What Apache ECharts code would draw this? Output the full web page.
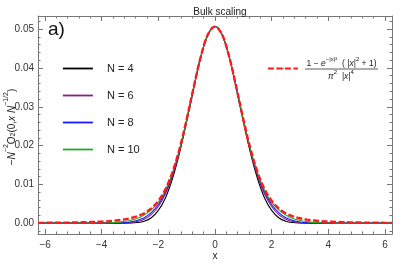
<!DOCTYPE html>
<html><head><meta charset="utf-8">
<script src="https://cdn.jsdelivr.net/npm/echarts@6/dist/echarts.min.js"></script>
<style>html,body{margin:0;padding:0;background:#fff}#c{width:407px;height:264px}</style>
</head><body><div id="c"></div>
<script>
var xs = [-6.25,-6,-5.75,-5.5,-5.25,-5,-4.75,-4.5,-4.25,-4,-3.75,-3.5,-3.25,-3,-2.75,-2.5,-2.25,-2,-1.75,-1.5,-1.25,-1,-0.75,-0.5,-0.25,
  0,0.25,0.5,0.75,1,1.25,1.5,1.75,2,2.25,2.5,2.75,3,3.25,3.5,3.75,4,4.25,4.5,4.75,5,5.25,5.5,5.75,6,6.25];
var n4 = [0,0,0,0,0,0,0,0,0,0,0,0,0,0.00003,0.00015,0.0005,0.0014,0.0033,0.0065,0.0115,0.0182,0.0262,0.0348,0.0428,0.0486,
  0.0507,
  0.0486,0.0428,0.0348,0.0262,0.0182,0.0115,0.0065,0.0033,0.0014,0.0005,0.00015,0.00003,0,0,0,0,0,0,0,0,0,0,0,0,0];
var n6 = [0,0,0,0,0,0,0,0,0,0,0,0,0.00003,0.00012,0.0004,0.0010,0.0022,0.0043,0.0075,0.0122,0.0187,0.0265,0.0350,0.0429,0.0486,
  0.0507,
  0.0486,0.0429,0.0350,0.0265,0.0187,0.0122,0.0075,0.0043,0.0022,0.0010,0.0004,0.00012,0.00003,0,0,0,0,0,0,0,0,0,0,0,0];
var n8 = [0,0,0,0,0,0,0,0,0,0,0,0.00003,0.0001,0.0003,0.0007,0.0014,0.0027,0.0048,0.0080,0.0126,0.0189,0.0266,0.0351,0.0429,0.0486,
  0.0507,
  0.0486,0.0429,0.0351,0.0266,0.0189,0.0126,0.0080,0.0048,0.0027,0.0014,0.0007,0.0003,0.0001,0.00003,0,0,0,0,0,0,0,0,0,0,0];
var n10 = [0,0,0,0,0,0,0,0,0.00001,0.00004,0.0001,0.0002,0.0004,0.0007,0.0012,0.0021,0.0034,0.0054,0.0085,0.0130,0.0191,0.0267,0.0351,0.0430,0.0486,
  0.0507,
  0.0486,0.0430,0.0351,0.0267,0.0191,0.0130,0.0085,0.0054,0.0034,0.0021,0.0012,0.0007,0.0004,0.0002,0.0001,0.00004,0.00001,0,0,0,0,0,0,0,0];
var bulk = [0.0000664,0.0000782,0.0000927,0.000111,0.000133,0.000162,0.000199,0.000247,0.000311,0.00040,0.00051,0.00068,0.00091,0.00125,0.00176,0.00256,0.00380,0.00575,0.00875,0.01316,0.01921,0.02677,0.03513,0.04296,0.04861,
  0.05066,
  0.04861,0.04296,0.03513,0.02677,0.01921,0.01316,0.00875,0.00575,0.00380,0.00256,0.00176,0.00125,0.00091,0.00068,0.00051,0.00040,0.000311,0.000247,0.000199,0.000162,0.000133,0.000111,0.0000927,0.0000782,0.0000664];
var xTicks = [-6,-4,-2,0,2,4,6];
var yTicks = [0,0.01,0.02,0.03,0.04,0.05];
var xMinor = [];
for (var i = -15; i <= 15; i++) xMinor.push(+(i*0.4).toFixed(2));
var yMinor = [];
for (var j = -1; j <= 26; j++) yMinor.push(+(j*0.002).toFixed(3));
var names = ['N = 4','N = 6','N = 8','N = 10'];
var colors = ['#000000','#8b1a8b','#1a1aff','#22aa22'];

function pairs(ys){ return xs.map(function(x,i){ return [x, ys[i]]; }); }

var XMIN=-6.25, XMAX=6.25, YMIN=-0.0028, YMAX=0.0534;
var FONT = 'Liberation Sans';
var frameColor = '#777';
function xAxis(pos, vals, len, labels, line){
  return {type:'value', min:XMIN, max:XMAX, position:pos,
    axisLine:{show:line, onZero:false, lineStyle:{color:frameColor, width:1}},
    splitLine:{show:false},
    axisTick:{show:true, inside:true, length:len, customValues:vals, lineStyle:{color:frameColor}},
    axisLabel:{show:labels, customValues:vals, color:'#333', fontSize:10, fontFamily:FONT, margin:6,
      formatter:function(v){ return v<0 ? '\u2212'+Math.abs(v) : String(v); }}};
}
function yAxis(pos, vals, len, labels, line){
  return {type:'value', min:YMIN, max:YMAX, position:pos,
    axisLine:{show:line, onZero:false, lineStyle:{color:frameColor, width:1}},
    splitLine:{show:false},
    axisTick:{show:true, inside:true, length:len, customValues:vals, lineStyle:{color:frameColor}},
    axisLabel:{show:labels, customValues:vals, color:'#333', fontSize:10, fontFamily:FONT, margin:4,
      formatter:function(v){ return v.toFixed(2); }}};
}
var series = [];
[n4,n6,n8,n10].forEach(function(d,k){
  series.push({name:names[k], type:'line', data:pairs(d), smooth:0.35, symbol:'none',
    lineStyle:{color:colors[k], width:1.1}, itemStyle:{color:colors[k]}, z:2+k});
});
series.push({name:'bulk', type:'line', data:pairs(bulk), smooth:0.35, symbol:'none',
  lineStyle:{color:'#ff1a1a', width:2.4, type:[6,2.5]}, itemStyle:{color:'#ff1a1a'}, z:10});

var chart = echarts.init(document.getElementById('c'), null, {renderer:'canvas'});
chart.setOption({
  animation:false,
  backgroundColor:'#fff',
  title:{text:'Bulk scaling', left:215, top:2, textAlign:'center',
    textStyle:{fontSize:10, fontWeight:'normal', color:'#222', fontFamily:FONT}},
  grid:{left:38, right:15, top:16, bottom:30, show:false},
  xAxis:[xAxis('bottom', xTicks, 5, true, true), xAxis('bottom', xMinor, 2.5, false, false),
         xAxis('top', xTicks, 5, false, true), xAxis('top', xMinor, 2.5, false, false)],
  yAxis:[yAxis('left', yTicks, 5, true, true), yAxis('left', yMinor, 2.5, false, false),
         yAxis('right', yTicks, 5, false, true), yAxis('right', yMinor, 2.5, false, false)],
  legend:[{data:names, orient:'vertical', left:57, top:58, itemWidth:30, itemHeight:2, itemGap:16,
      lineStyle:{width:1.8},
      textStyle:{fontSize:11, color:'#222', fontFamily:FONT, padding:[0,0,0,9]}},
    {data:['bulk'], orient:'vertical', left:262, top:58, itemWidth:30, itemHeight:2,
      lineStyle:{width:1.8},
      formatter:function(){ return ' '; }, textStyle:{fontSize:11}}],
  series:series,
  graphic:[
    {type:'text', left:48, top:20, style:{text:'a)', fontSize:19, fill:'#111', fontFamily:FONT}},
    {type:'text', x:341.5, y:62.5, style:{
      text:'{n|1 \u2212 }{i|e}{s|\u2212|x|\u00b2}{n|  ( |}{i|x}{n||}{s|2}{n| + 1)}',
      align:'center', verticalAlign:'middle',
      rich:{n:{fontSize:8.5, fontFamily:FONT, fill:'#222', verticalAlign:'bottom', lineHeight:12},
            i:{fontSize:8.5, fontFamily:FONT, fontStyle:'italic', fill:'#222', verticalAlign:'bottom', lineHeight:12},
            s:{fontSize:6, fontFamily:FONT, fill:'#222', verticalAlign:'top', lineHeight:12}}}},
    {type:'line', shape:{x1:305, y1:69, x2:378, y2:69}, style:{stroke:'#333', lineWidth:0.8}},
    {type:'text', x:341, y:75.5, style:{
      text:'{i|\u03c0}{s|2}{n|  |}{i|x}{n||}{s|4}',
      align:'center', verticalAlign:'middle',
      rich:{n:{fontSize:8.5, fontFamily:FONT, fill:'#222', verticalAlign:'bottom', lineHeight:12},
            i:{fontSize:8.5, fontFamily:FONT, fontStyle:'italic', fill:'#222', verticalAlign:'bottom', lineHeight:12},
            s:{fontSize:6, fontFamily:FONT, fill:'#222', verticalAlign:'top', lineHeight:12}}}},
    {type:'text', x:10, y:127, rotation:Math.PI/2, style:{
      text:'{n|\u2212}{i|N}{s|\u22122}{n|O}{b|2}{n|(0,}{i|x N}{s|\u22121/2}{n|)}',
      align:'center', verticalAlign:'middle',
      rich:{n:{fontSize:10, fontFamily:FONT, fill:'#222', verticalAlign:'bottom', lineHeight:14},
            i:{fontSize:10, fontFamily:FONT, fontStyle:'italic', fill:'#222', verticalAlign:'bottom', lineHeight:14},
            s:{fontSize:7, fontFamily:FONT, fill:'#222', verticalAlign:'top', lineHeight:14},
            b:{fontSize:7, fontFamily:FONT, fill:'#222', verticalAlign:'bottom', lineHeight:12}}}},
    {type:'text', x:215, y:256, style:{text:'x', fontSize:10, fontFamily:FONT, fill:'#222', align:'center', verticalAlign:'middle'}}
  ]
});
</script>
</body></html>
